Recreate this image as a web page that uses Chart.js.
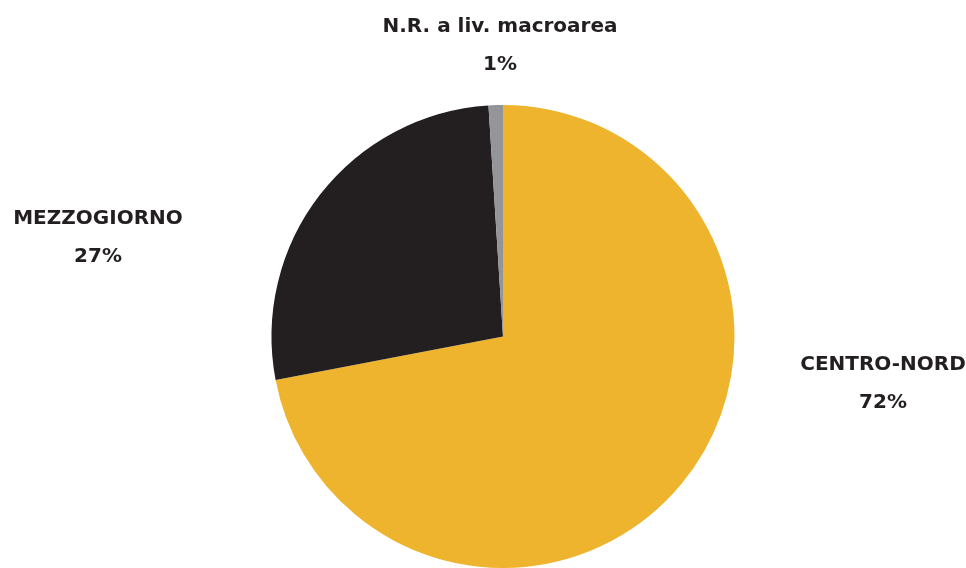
<!DOCTYPE html>
<html>
<head>
<meta charset="utf-8">
<script src="https://cdn.jsdelivr.net/npm/chart.js@4/dist/chart.umd.min.js"></script>
<style>
  html, body { margin: 0; padding: 0; background: #ffffff; }
  #wrap { width: 966px; height: 568px; }
</style>
</head>
<body>
<div id="wrap"><canvas id="c" width="966" height="568"></canvas></div>
<script>
// Ripartizione per macroarea
const categories = ['CENTRO-NORD', 'MEZZOGIORNO', 'N.R. a liv. macroarea'];
const shares = [72, 27, 1];
const sliceColors = ['#EFB42D', '#231F20', '#939598'];

// Label anchors (centre of the two-line block) per slice
const labelAnchors = [
  { x: 883, y: 384 },
  { x: 98, y: 238 },
  { x: 500, y: 46 }
];

const outsideLabels = {
  id: 'outsideLabels',
  afterDraw(chart) {
    const ctx = chart.ctx;
    const meta = chart.getDatasetMeta(0);
    ctx.save();
    ctx.fillStyle = '#231F20';
    ctx.textAlign = 'center';
    ctx.textBaseline = 'middle';
    ctx.font = 'bold 20px "DejaVu Sans"';
    meta.data.forEach((arc, i) => {
      const a = labelAnchors[i];
      const v = chart.data.datasets[0].data[i];
      ctx.fillText(chart.data.labels[i], a.x, a.y - 19);
      ctx.fillText(v + '%', a.x, a.y + 19);
    });
    ctx.restore();
  }
};

new Chart(document.getElementById('c'), {
  type: 'pie',
  data: {
    labels: categories,
    datasets: [{
      data: shares,
      backgroundColor: sliceColors,
      borderWidth: 0
    }]
  },
  options: {
    responsive: false,
    animation: false,
    layout: { padding: { top: 105, bottom: 0, left: 271, right: 231 } },
    plugins: {
      legend: { display: false },
      tooltip: { enabled: false }
    }
  },
  plugins: [outsideLabels]
});
</script>
</body>
</html>
